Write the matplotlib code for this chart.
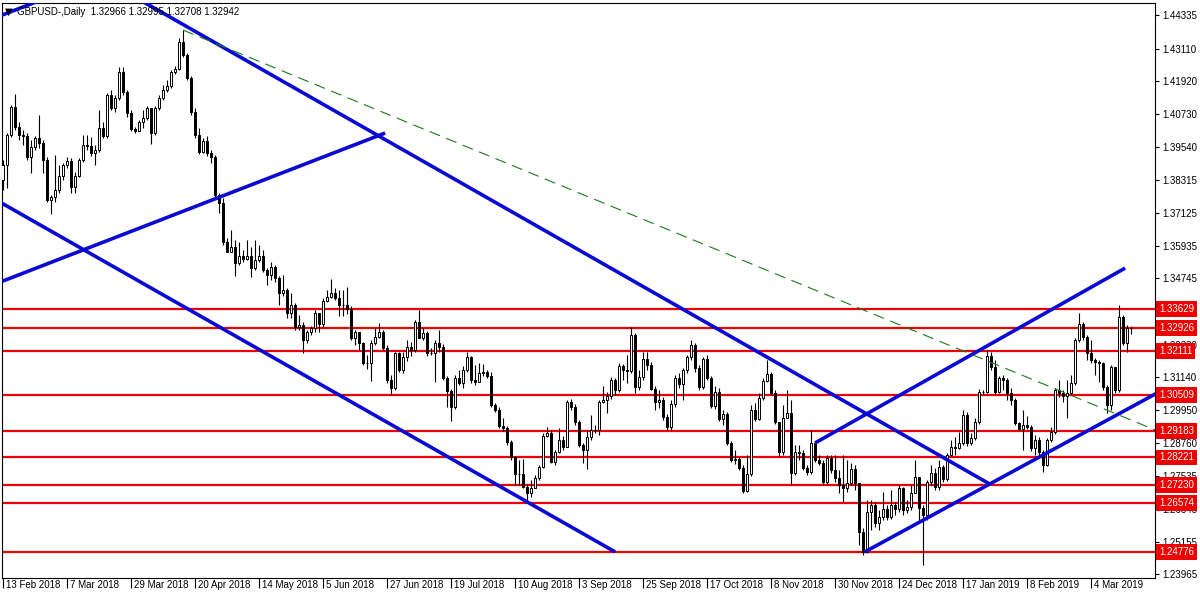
import matplotlib
matplotlib.use("Agg")
import matplotlib.pyplot as plt
import matplotlib.transforms as mtransforms

plt.rcParams['font.family'] = ['Liberation Sans', 'DejaVu Sans']

# GBPUSD daily bars, 13 Feb 2018 .. 18 Mar 2019
first_open = 1.3833
closes = [
    1.3888, 1.3997, 1.4099, 1.4026, 1.3997, 1.3993, 1.3917, 1.3953, 1.3986, 1.3968,
    1.3906, 1.3760, 1.3771, 1.3796, 1.3847, 1.3888, 1.3902, 1.3807, 1.3847, 1.3906,
    1.3960, 1.3957, 1.3931, 1.3942, 1.4022, 1.3993, 1.4143, 1.4095, 1.4132, 1.4226,
    1.4153, 1.4077, 1.4019, 1.4011, 1.4044, 1.4059, 1.4095, 1.4004, 1.4095, 1.4132,
    1.4161, 1.4175, 1.4226, 1.4237, 1.4336, 1.4288, 1.4205, 1.4081, 1.3997, 1.3935,
    1.3975, 1.3931, 1.3917, 1.3778, 1.3749, 1.3607, 1.3571, 1.3589, 1.3531, 1.3556,
    1.3545, 1.3556, 1.3512, 1.3541, 1.3556, 1.3505, 1.3487, 1.3516, 1.3476, 1.3421,
    1.3432, 1.3348, 1.3378, 1.3297, 1.3305, 1.3250, 1.3279, 1.3294, 1.3348, 1.3308,
    1.3392, 1.3407, 1.3421, 1.3403, 1.3378, 1.3378, 1.3363, 1.3257, 1.3279, 1.3239,
    1.3166, 1.3166, 1.3239, 1.3261, 1.3279, 1.3221, 1.3104, 1.3075, 1.3203, 1.3141,
    1.3188, 1.3225, 1.3214, 1.3316, 1.3257, 1.3276, 1.3203, 1.3203, 1.3239, 1.3225,
    1.3112, 1.3064, 1.3006, 1.3112, 1.3093, 1.3141, 1.3188, 1.3104, 1.3097, 1.3130,
    1.3133, 1.3119, 1.3013, 1.2995, 1.2937, 1.2929, 1.2878, 1.2824, 1.2762, 1.2762,
    1.2715, 1.2693, 1.2711, 1.2747, 1.2787, 1.2900, 1.2911, 1.2806, 1.2842, 1.2886,
    1.2860, 1.3024, 1.3006, 1.2951, 1.2868, 1.2849, 1.2897, 1.2922, 1.2922, 1.3024,
    1.3031, 1.3046, 1.3104, 1.3068, 1.3155, 1.3141, 1.3137, 1.3268, 1.3079, 1.3115,
    1.3181, 1.3159, 1.3072, 1.3024, 1.3031, 1.2970, 1.2933, 1.3017, 1.3112, 1.3090,
    1.3141, 1.3188, 1.3232, 1.3148, 1.3079, 1.3181, 1.3112, 1.3010, 1.3061, 1.2962,
    1.2980, 1.2875, 1.2813, 1.2816, 1.2784, 1.2700, 1.2762, 1.2995, 1.2962, 1.3039,
    1.3101, 1.3126, 1.3057, 1.2951, 1.2842, 1.2966, 1.2984, 1.2766, 1.2842, 1.2838,
    1.2784, 1.2769, 1.2875, 1.2813, 1.2802, 1.2733, 1.2820, 1.2776, 1.2747, 1.2722,
    1.2711, 1.2729, 1.2780, 1.2729, 1.2551, 1.2478, 1.2623, 1.2649, 1.2583, 1.2605,
    1.2634, 1.2605, 1.2649, 1.2634, 1.2711, 1.2631, 1.2642, 1.2693, 1.2751, 1.2638,
    1.2613, 1.2733, 1.2766, 1.2715, 1.2787, 1.2744, 1.2831, 1.2860, 1.2857, 1.2875,
    1.2977, 1.2875, 1.2893, 1.2951, 1.3061, 1.3061, 1.3192, 1.3152, 1.3061, 1.3112,
    1.3104, 1.3057, 1.3031, 1.2948, 1.2926, 1.2940, 1.2933, 1.2857, 1.2886, 1.2842,
    1.2795, 1.2886, 1.2915, 1.3068, 1.3057, 1.3046, 1.3057, 1.3093, 1.3250, 1.3308,
    1.3261, 1.3203, 1.3177, 1.3170, 1.3166, 1.3079, 1.3013, 1.3152, 1.3068, 1.3334,
    1.3239, 1.3294, 1.32942,
]
highs = [
    1.3906, 1.4004, 1.4106, 1.4146, 1.4044, 1.4015, 1.4004, 1.3979, 1.3993, 1.4070,
    1.3979, 1.3917, 1.3778, 1.3924, 1.3888, 1.3895, 1.3917, 1.3913, 1.3862, 1.3913,
    1.3997, 1.3997, 1.3990, 1.3960, 1.4088, 1.4044, 1.4150, 1.4161, 1.4143, 1.4245,
    1.4245, 1.4161, 1.4088, 1.4026, 1.4051, 1.4088, 1.4102, 1.4095, 1.4102, 1.4143,
    1.4179, 1.4197, 1.4234, 1.4248, 1.4350, 1.4379, 1.4296, 1.4212, 1.4095, 1.4022,
    1.3986, 1.3993, 1.3942, 1.3924, 1.3786, 1.3767, 1.3622, 1.3651, 1.3614, 1.3607,
    1.3578, 1.3614, 1.3589, 1.3614, 1.3596, 1.3578, 1.3512, 1.3534, 1.3523, 1.3483,
    1.3487, 1.3440, 1.3421, 1.3385, 1.3341, 1.3316, 1.3286, 1.3301, 1.3359, 1.3348,
    1.3403, 1.3432, 1.3472, 1.3440, 1.3432, 1.3432, 1.3443, 1.3374, 1.3286, 1.3268,
    1.3243, 1.3195, 1.3250, 1.3294, 1.3312, 1.3286, 1.3232, 1.3122, 1.3206, 1.3206,
    1.3206, 1.3250, 1.3243, 1.3323, 1.3359, 1.3294, 1.3283, 1.3221, 1.3250, 1.3286,
    1.3235, 1.3119, 1.3072, 1.3122, 1.3141, 1.3155, 1.3206, 1.3192, 1.3159, 1.3166,
    1.3163, 1.3141, 1.3133, 1.3020, 1.3006, 1.2966, 1.2937, 1.2886, 1.2827, 1.2813,
    1.2816, 1.2725, 1.2740, 1.2758, 1.2795, 1.2911, 1.2933, 1.2922, 1.2849, 1.2929,
    1.2900, 1.3031, 1.3035, 1.3017, 1.2959, 1.2875, 1.2922, 1.2977, 1.2940, 1.3031,
    1.3082, 1.3061, 1.3115, 1.3112, 1.3166, 1.3163, 1.3195, 1.3297, 1.3276, 1.3141,
    1.3206, 1.3206, 1.3170, 1.3082, 1.3068, 1.3042, 1.2980, 1.3031, 1.3122, 1.3130,
    1.3148, 1.3195, 1.3250, 1.3239, 1.3159, 1.3188, 1.3195, 1.3119, 1.3082, 1.3075,
    1.2995, 1.2988, 1.2882, 1.2849, 1.2824, 1.2795, 1.2831, 1.3013, 1.3020, 1.3057,
    1.3112, 1.3177, 1.3133, 1.3068, 1.2944, 1.3013, 1.3068, 1.3031, 1.2868, 1.2868,
    1.2849, 1.2795, 1.2922, 1.2878, 1.2831, 1.2813, 1.2831, 1.2831, 1.2831, 1.2776,
    1.2831, 1.2813, 1.2802, 1.2795, 1.2711, 1.2565, 1.2667, 1.2667, 1.2660, 1.2631,
    1.2696, 1.2649, 1.2704, 1.2660, 1.2722, 1.2715, 1.2667, 1.2722, 1.2813, 1.2747,
    1.2649, 1.2740, 1.2795, 1.2784, 1.2813, 1.2795, 1.2838, 1.2886, 1.2897, 1.2915,
    1.2995, 1.2988, 1.2911, 1.2966, 1.3072, 1.3068, 1.3214, 1.3206, 1.3177, 1.3119,
    1.3122, 1.3112, 1.3075, 1.3039, 1.2951, 1.2995, 1.2973, 1.2940, 1.2904, 1.2897,
    1.2849, 1.2893, 1.2933, 1.3075, 1.3104, 1.3068, 1.3104, 1.3122, 1.3257, 1.3348,
    1.3316, 1.3268, 1.3250, 1.3184, 1.3177, 1.3170, 1.3086, 1.3159, 1.3152, 1.3378,
    1.3341, 1.3305, 1.32995,
]
lows = [
    1.3796, 1.3804, 1.3990, 1.4015, 1.3979, 1.3960, 1.3906, 1.3858, 1.3942, 1.3950,
    1.3858, 1.3753, 1.3709, 1.3753, 1.3786, 1.3833, 1.3877, 1.3786, 1.3786, 1.3844,
    1.3898, 1.3942, 1.3920, 1.3888, 1.3935, 1.3986, 1.3986, 1.4088, 1.4081, 1.4124,
    1.4143, 1.4062, 1.4011, 1.4004, 1.4015, 1.4022, 1.4051, 1.3964, 1.3997, 1.4088,
    1.4124, 1.4153, 1.4168, 1.4219, 1.4234, 1.4281, 1.4197, 1.4070, 1.3986, 1.3928,
    1.3931, 1.3920, 1.3895, 1.3771, 1.3713, 1.3596, 1.3585, 1.3585, 1.3483, 1.3523,
    1.3534, 1.3541, 1.3480, 1.3505, 1.3534, 1.3498, 1.3450, 1.3469, 1.3461, 1.3378,
    1.3410, 1.3330, 1.3330, 1.3286, 1.3286, 1.3203, 1.3239, 1.3268, 1.3279, 1.3279,
    1.3297, 1.3388, 1.3403, 1.3396, 1.3337, 1.3337, 1.3345, 1.3250, 1.3232, 1.3214,
    1.3159, 1.3144, 1.3101, 1.3232, 1.3257, 1.3214, 1.3093, 1.3050, 1.3068, 1.3133,
    1.3130, 1.3173, 1.3192, 1.3206, 1.3268, 1.3250, 1.3192, 1.3195, 1.3097, 1.3206,
    1.3104, 1.3006, 1.2955, 1.2999, 1.3086, 1.3075, 1.3133, 1.3093, 1.3086, 1.3104,
    1.3119, 1.3112, 1.3006, 1.2988, 1.2929, 1.2918, 1.2868, 1.2813, 1.2722, 1.2722,
    1.2711, 1.2667, 1.2678, 1.2711, 1.2740, 1.2784, 1.2897, 1.2802, 1.2795, 1.2838,
    1.2849, 1.2864, 1.2995, 1.2940, 1.2860, 1.2802, 1.2780, 1.2886, 1.2911, 1.2904,
    1.3020, 1.2984, 1.3035, 1.3050, 1.3061, 1.3104, 1.3093, 1.3130, 1.3057, 1.3068,
    1.3104, 1.3141, 1.3068, 1.2995, 1.3002, 1.2959, 1.2922, 1.2922, 1.3006, 1.3075,
    1.3031, 1.3130, 1.3177, 1.3133, 1.3068, 1.3072, 1.3104, 1.3002, 1.2999, 1.2955,
    1.2940, 1.2868, 1.2806, 1.2798, 1.2776, 1.2693, 1.2696, 1.2755, 1.2955, 1.2959,
    1.3031, 1.3097, 1.3050, 1.2944, 1.2827, 1.2831, 1.2966, 1.2722, 1.2758, 1.2813,
    1.2776, 1.2758, 1.2762, 1.2806, 1.2795, 1.2722, 1.2725, 1.2766, 1.2733, 1.2693,
    1.2660, 1.2696, 1.2722, 1.2704, 1.2503, 1.2467, 1.2474, 1.2558, 1.2569, 1.2558,
    1.2594, 1.2594, 1.2598, 1.2613, 1.2623, 1.2613, 1.2620, 1.2631, 1.2696, 1.2594,
    1.2430, 1.2594, 1.2722, 1.2704, 1.2704, 1.2733, 1.2736, 1.2827, 1.2831, 1.2853,
    1.2868, 1.2864, 1.2868, 1.2886, 1.2944, 1.3050, 1.3057, 1.3141, 1.3053, 1.3057,
    1.3068, 1.3031, 1.3013, 1.2940, 1.2922, 1.2849, 1.2926, 1.2846, 1.2831, 1.2831,
    1.2769, 1.2791, 1.2878, 1.2908, 1.3042, 1.3024, 1.2966, 1.3050, 1.3086, 1.3243,
    1.3250, 1.3177, 1.3166, 1.3122, 1.3097, 1.3068, 1.2984, 1.2995, 1.3057, 1.3061,
    1.3232, 1.3206, 1.32708,
]

# horizontal support/resistance levels
levels = [1.33629, 1.32926, 1.32111, 1.30509, 1.29183, 1.28221, 1.27230, 1.26574, 1.24776]

# price scale labels on the right
price_ticks = [1.44335, 1.43110, 1.41920, 1.40730, 1.39540, 1.38315, 1.37125, 1.35935,
               1.34745, 1.33520, 1.32330, 1.31140, 1.29950, 1.28760, 1.27535, 1.26345,
               1.25155, 1.23965]

# one date label every 16 bars
date_labels = ['13 Feb 2018', '7 Mar 2018', '29 Mar 2018', '20 Apr 2018', '14 May 2018',
               '5 Jun 2018', '27 Jun 2018', '19 Jul 2018', '10 Aug 2018', '3 Sep 2018',
               '25 Sep 2018', '17 Oct 2018', '8 Nov 2018', '30 Nov 2018', '24 Dec 2018',
               '17 Jan 2019', '8 Feb 2019', '4 Mar 2019']

# trend lines as (bar, price) end points
blue_lines = [
    ((-1, 1.4782), (246.8, 1.2725)),   # upper falling channel line
    ((-1, 1.3755), (153.1, 1.2478)),   # lower falling channel line
    ((-1, 1.3459), (95.6, 1.4004)),    # rising line top left
    ((-1, 1.4429), (20, 1.4547)),      # its parallel
    ((215.5, 1.2478), (290, 1.3068)),  # rising channel bottom
    ((203.1, 1.2875), (280.6, 1.3512)),  # rising channel top
]
green_line = ((45.1, 1.4379), (288.5, 1.2920))

title = 'GBPUSD-,Daily  1.32966 1.32995 1.32708 1.32942'

W, H = 1200, 600
fig = plt.figure(figsize=(12, 6), dpi=100)
fig.patch.set_facecolor('white')
ax = fig.add_axes([2 / W, 22 / H, 1153 / W, 575 / H])

n = len(closes)
opens = [first_open] + closes[:-1]
xs = list(range(n))

# wicks
lo_w = [min(lows[i], opens[i], closes[i]) for i in xs]
hi_w = [max(highs[i], opens[i], closes[i]) for i in xs]
ax.vlines(xs, lo_w, hi_w, color='black', lw=0.8, zorder=3)

# bodies
bottoms = [min(opens[i], closes[i]) for i in xs]
heights = [abs(closes[i] - opens[i]) for i in xs]
faces = ['white' if closes[i] >= opens[i] else 'black' for i in xs]
ax.bar(xs, heights, bottom=bottoms, width=0.6, color=faces, edgecolor='black',
       linewidth=0.7, zorder=4)

# horizontal levels
for lv in levels:
    ax.axhline(lv, color='#ee0000', lw=1.6, zorder=2)

# trend lines
for (x0, y0), (x1, y1) in blue_lines:
    ax.plot([x0, x1], [y0, y1], color='#0a0ad2', lw=2.6, zorder=5, solid_capstyle='butt')
(gx0, gy0), (gx1, gy1) = green_line
ax.plot([gx0, gx1], [gy0, gy1], color='#1a7a1a', lw=0.8, dashes=(10, 6), zorder=5)

ax.set_xlim(-0.175, 288.07)
ax.set_ylim(1.23830, 1.44777)

# axes styling
for sp in ax.spines.values():
    sp.set_color('black')
    sp.set_linewidth(0.8)
ax.yaxis.tick_right()
ax.set_yticks(price_ticks)
ax.set_yticklabels(['%.5f' % p for p in price_ticks])
ax.tick_params(axis='y', length=3, width=0.8, labelsize=7, pad=2, colors='black')

ax.set_xticks(range(0, 16 * len(date_labels), 16))
ax.set_xticklabels(date_labels, ha='left')
ax.tick_params(axis='x', length=7, width=0.8, labelsize=7, pad=-5.5)
offset = mtransforms.ScaledTranslation(3 / 100, 0, fig.dpi_scale_trans)
for lab in ax.get_xticklabels():
    lab.set_transform(lab.get_transform() + offset)

# red price tags for the levels
for lv in levels:
    ax.text(1.0035, lv, '%.5f' % lv, transform=ax.get_yaxis_transform(),
            ha='left', va='center', fontsize=7, color='white', zorder=6, clip_on=False,
            bbox=dict(boxstyle='square,pad=0.3', fc='#ee0000', ec='none'))

# chart header
fig.text(5 / W, 1 - 12 / H, '\u25bc', fontsize=7, va='center', ha='left',
         family='DejaVu Sans')
fig.text(17 / W, 1 - 12 / H, title, fontsize=7, va='center', ha='left')

fig.savefig('out.png', dpi=100, facecolor='white')
